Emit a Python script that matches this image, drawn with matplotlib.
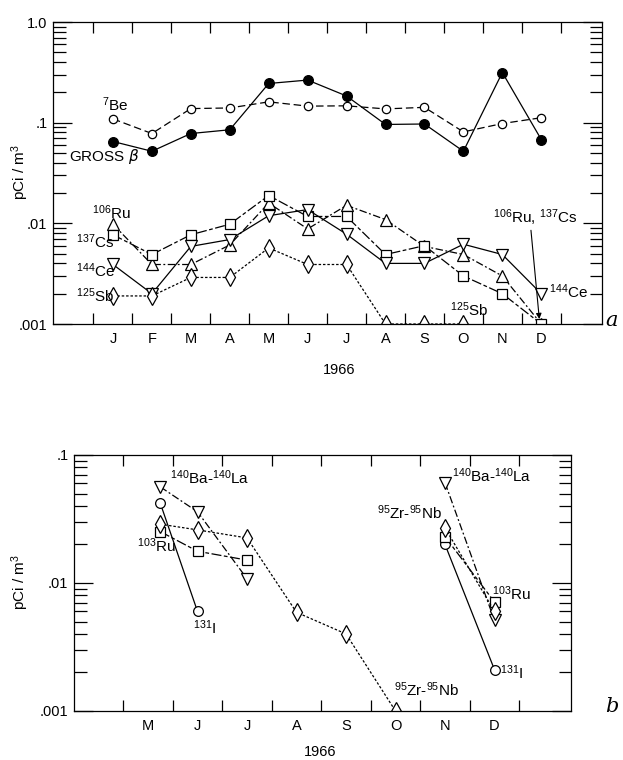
import numpy as np
from matplotlib import pyplot as plt
from matplotlib.ticker import FixedLocator, LogLocator, NullFormatter

plt.rcParams['font.family'] = ['Liberation Sans', 'DejaVu Sans']
plt.rcParams['mathtext.default'] = 'regular'

nan = np.nan

# --- panel a: monthly means, 1966
month_names = ['J', 'F', 'M', 'A', 'M', 'J', 'J', 'A', 'S', 'O', 'N', 'D']
months_a = [1, 2, 3, 4, 5, 6, 7, 8, 9, 10, 11, 12]
gross_beta = [0.065, 0.052, 0.078, 0.085, 0.245, 0.265, 0.184, 0.096, 0.097, 0.052, 0.315, 0.068]
be7 = [0.109, 0.078, 0.138, 0.140, 0.161, 0.146, 0.147, 0.137, 0.142, 0.081, 0.098, 0.112]
ru106 = [0.0098, 0.0039, 0.0039, 0.0061, 0.0159, 0.0088, 0.0151, 0.0109, 0.0059, 0.0049, 0.0030, 0.0010]
cs137 = [0.0077, 0.0049, 0.0077, 0.0098, 0.0189, 0.0117, 0.0117, 0.0049, 0.0060, 0.0030, 0.0020, 0.0010]
ce144 = [0.0039, 0.0020, 0.0059, 0.0069, 0.0119, 0.0137, 0.0078, 0.0040, 0.0040, 0.0062, 0.0049, 0.0020]
sb125 = [0.0019, 0.0019, 0.0029, 0.0029, 0.0057, 0.0039, 0.0039, 0.0010, 0.0010, 0.0010, nan, nan]

# --- panel b: short-lived fission products
months_b_spring = [5.25, 6, 7, 8, 9, 10]
months_b_fall = [11, 12]
bala_spring = [0.0563, 0.0360, 0.0108, nan, nan, nan]
bala_fall = [0.0608, 0.0051]
i131_spring = [0.0418, 0.0060, nan, nan, nan, nan]
i131_fall = [0.0200, 0.0021]
ru103_spring = [0.0252, 0.0177, 0.0151, nan, nan, nan]
ru103_fall = [0.0230, 0.0071]
zrnb_spring = [0.0288, 0.0260, 0.0225, 0.0059, 0.0040, 0.0010]
zrnb_fall = [0.0269, 0.0060]

W, H = 623, 760
fig = plt.figure(figsize=(W / 100, H / 100), dpi=100)

def px_axes(x0, y0, x1, y1):
    return fig.add_axes([x0 / W, 1 - y1 / H, (x1 - x0) / W, (y1 - y0) / H])

def style_axes(ax, ylabels, xlim, months):
    ax.set_yscale('log')
    majors = [10.0 ** k for k in range(-3, -3 + len(ylabels))]
    ax.yaxis.set_major_locator(FixedLocator(majors))
    ax.set_yticklabels(ylabels)
    ax.yaxis.set_minor_locator(LogLocator(base=10, subs=np.arange(2, 10)))
    ax.yaxis.set_minor_formatter(NullFormatter())
    ax.tick_params(axis='y', which='both', direction='in', left=True, right=True,
                   labelsize=10.5, pad=4, width=0.9)
    ax.tick_params(axis='y', which='major', length=14)
    ax.tick_params(axis='y', which='minor', length=9)
    edges = [m + 0.5 for m in range(0, 13) if xlim[0] < m + 0.5 < xlim[1]]
    ax.set_xticks(edges)
    ax.set_xticklabels([])
    ax.set_xticks(months, minor=True)
    ax.set_xticklabels([month_names[m - 1] for m in months], minor=True)
    ax.tick_params(axis='x', which='major', direction='in', top=True, bottom=True,
                   length=8, width=0.9)
    ax.tick_params(axis='x', which='minor', length=0, labelsize=10.5, pad=6)
    ax.set_xlim(*xlim)
    for s in ax.spines.values():
        s.set_linewidth(0.9)

lk = dict(color='black', lw=0.9, mec='black', mew=0.9)

# ---------------- panel a
ax = px_axes(53, 22, 602, 324)
ax.plot(months_a, be7, ls=(0, (6, 3)), marker='o', ms=6, mfc='white', **lk)
ax.plot(months_a, gross_beta, ls='-', marker='o', ms=7, mfc='black', **lk)
ax.plot(months_a, ru106, ls=(0, (6, 2, 1.5, 2)), marker='^', ms=8, mfc='white', **lk)
ax.plot(months_a, cs137, ls=(0, (8, 2, 3, 2)), marker='s', ms=7, mfc='white', **lk)
ax.plot(months_a, ce144, ls='-', marker='v', ms=8, mfc='white', **lk)
ax.plot(months_a, sb125, ls=(0, (2, 1.5)), marker='d', ms=9, mfc='white', **lk)
style_axes(ax, ['.001', '.01', '.1', '1.0'], (-0.54, 13.56), months_a)
ax.set_ylim(0.001, 1.0)

fs = 11
ax.text(0.72, 0.15, '$^{7}$Be', fontsize=fs, va='center')
ax.text(-0.12, 0.046, r'GROSS $\it{\beta}$', fontsize=fs, va='center')
ax.text(0.46, 0.0128, '$^{106}$Ru', fontsize=fs, va='center')
ax.text(0.05, 0.0066, '$^{137}$Cs', fontsize=fs, va='center')
ax.text(0.05, 0.0034, '$^{144}$Ce', fontsize=fs, va='center')
ax.text(0.05, 0.0019, '$^{125}$Sb', fontsize=fs, va='center')
ax.text(12.2, 0.0021, '$^{144}$Ce', fontsize=fs, va='center')
ax.text(9.65, 0.00138, '$^{125}$Sb', fontsize=fs, va='center')
ax.annotate('$^{106}$Ru, $^{137}$Cs', xy=(11.95, 0.00112), xytext=(10.75, 0.0115),
            fontsize=fs, va='center',
            arrowprops=dict(arrowstyle='-|>', color='black', lw=0.8,
                            mutation_scale=8, shrinkA=0, shrinkB=0,
                            relpos=(0.45, 0.0)))

fig.text(339 / W, 1 - 370 / H, '1966', fontsize=10.5, ha='center', va='center')
fig.text(20 / W, 1 - 172 / H, 'pCi / m$^{3}$', fontsize=11, rotation=90,
         ha='center', va='center')
fig.text(612 / W, 1 - 320 / H, 'a', fontsize=15, family='DejaVu Serif',
         style='italic', ha='center', va='center')

# ---------------- panel b
bx = px_axes(74, 455, 571, 711)
for vals, kw in [
    ((bala_spring, bala_fall), dict(ls=(0, (6, 2, 1.5, 2)), marker='v', ms=8)),
    ((i131_spring, i131_fall), dict(ls='-', marker='o', ms=7)),
    ((ru103_spring, ru103_fall), dict(ls=(0, (8, 2, 3, 2)), marker='s', ms=7)),
    ((zrnb_spring, zrnb_fall), dict(ls=(0, (2, 1.5)), marker='d', ms=9)),
]:
    bx.plot(months_b_spring, vals[0], mfc='white', **kw, **lk)
    bx.plot(months_b_fall, vals[1], mfc='white', **kw, **lk)
style_axes(bx, ['.001', '.01', '.1'], (3.505, 13.545), months_a[4:])
bx.set_ylim(0.001, 0.1)

bx.text(5.44, 0.066, '$^{140}$Ba-$^{140}$La', fontsize=fs, va='center')
bx.text(4.78, 0.0196, '$^{103}$Ru', fontsize=fs, va='center')
bx.text(5.9, 0.0045, '$^{131}$I', fontsize=fs, va='center')
bx.text(11.14, 0.0687, '$^{140}$Ba-$^{140}$La', fontsize=fs, va='center')
bx.text(9.63, 0.0354, '$^{95}$Zr-$^{95}$Nb', fontsize=fs, va='center')
bx.text(11.95, 0.0083, '$^{103}$Ru', fontsize=fs, va='center')
bx.text(12.11, 0.0020, '$^{131}$I', fontsize=fs, va='center')
bx.text(9.97, 0.00148, '$^{95}$Zr-$^{95}$Nb', fontsize=fs, va='center')

fig.text(320 / W, 1 - 752 / H, '1966', fontsize=10.5, ha='center', va='center')
fig.text(20 / W, 1 - 582 / H, 'pCi / m$^{3}$', fontsize=11, rotation=90,
         ha='center', va='center')
fig.text(612 / W, 1 - 706 / H, 'b', fontsize=15, family='DejaVu Serif',
         style='italic', ha='center', va='center')

fig.savefig('out.png', dpi=100)
